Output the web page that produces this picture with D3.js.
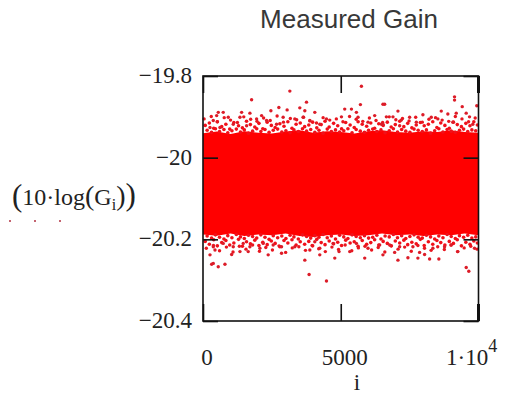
<!DOCTYPE html>
<html><head><meta charset="utf-8">
<script src="https://cdn.jsdelivr.net/npm/d3@7"></script>
<style>
html,body{margin:0;padding:0;background:#fff;}
svg{display:block;}
</style></head>
<body>
<svg id="chart" width="506" height="398"></svg>
<script>
// ---------------- data ----------------
const title = "Measured Gain";
const xTicks = [0, 5000, 10000];
const yTicks = [-19.8, -20, -20.2, -20.4];
const yTickLabels = ["\u221219.8", "\u221220", "\u221220.2", "\u221220.4"];
// dense core of the scatter: envelope (per index bin)
const coreI = [0,500,1000,1500,2000,2500,3000,3500,4000,4500,5000,5500,6000,6500,7000,7500,8000,8500,9000,9500,10000];
const coreHigh = [-19.940,-19.936,-19.942,-19.935,-19.939,-19.941,-19.936,-19.933,-19.939,-19.935,-19.937,-19.941,-19.935,-19.933,-19.937,-19.939,-19.935,-19.937,-19.933,-19.937,-19.939];
const coreLow = [-20.188,-20.191,-20.186,-20.192,-20.188,-20.190,-20.186,-20.192,-20.194,-20.190,-20.188,-20.192,-20.190,-20.186,-20.190,-20.188,-20.192,-20.188,-20.190,-20.186,-20.190];
// points forming the ragged upper edge of the dense core
const upEdgeI = [80,230,390,520,680,830,970,1120,1290,1430,1580,1720,1880,2030,2170,2330,2480,2620,2790,2940,3080,3230,3380,3530,3690,3840,3980,4130,4290,4430,4580,4740,4890,5030,5180,5340,5490,5630,5780,5940,6090,6230,6380,6540,6690,6830,6980,7140,7290,7430,7580,7740,7890,8030,8180,8340,8490,8630,8780,8940,9090,9230,9380,9540,9690,9830,9960];
const upEdgeG = [-19.921,-19.915,-19.928,-19.912,-19.924,-19.918,-19.930,-19.914,-19.922,-19.927,-19.911,-19.919,-19.925,-19.916,-19.929,-19.913,-19.921,-19.926,-19.917,-19.923,-19.912,-19.928,-19.918,-19.915,-19.924,-19.920,-19.913,-19.927,-19.919,-19.911,-19.925,-19.916,-19.922,-19.929,-19.914,-19.920,-19.926,-19.912,-19.918,-19.923,-19.915,-19.928,-19.917,-19.921,-19.913,-19.925,-19.919,-19.911,-19.924,-19.916,-19.927,-19.920,-19.914,-19.922,-19.918,-19.912,-19.926,-19.915,-19.921,-19.928,-19.913,-19.919,-19.924,-19.916,-19.922,-19.912,-19.920];
const upEdge2I = [150,310,450,600,760,900,1050,1210,1360,1500,1650,1800,1950,2100,2250,2400,2550,2710,2860,3010,3160,3300,3460,3610,3760,3910,4060,4210,4360,4510,4660,4810,4960,5110,5260,5410,5560,5710,5860,6010,6160,6310,6460,6610,6760,6910,7060,7210,7360,7510,7660,7810,7960,8110,8260,8410,8560,8710,8860,9010,9160,9310,9460,9610,9760,9900];
const upEdge2G = [-19.933,-19.938,-19.929,-19.936,-19.931,-19.939,-19.934,-19.930,-19.937,-19.932,-19.940,-19.935,-19.929,-19.936,-19.931,-19.938,-19.933,-19.930,-19.937,-19.934,-19.939,-19.932,-19.936,-19.929,-19.935,-19.931,-19.938,-19.933,-19.940,-19.930,-19.936,-19.932,-19.937,-19.934,-19.929,-19.939,-19.931,-19.935,-19.938,-19.933,-19.930,-19.936,-19.932,-19.939,-19.934,-19.929,-19.937,-19.931,-19.935,-19.938,-19.930,-19.933,-19.936,-19.932,-19.940,-19.934,-19.929,-19.937,-19.931,-19.935,-19.938,-19.933,-19.930,-19.936,-19.932,-19.934];
const upEdge3I = [40,300,520,770,1000,1250,1480,1730,1960,2200,2440,2690,2920,3170,3400,3650,3880,4120,4360,4600,4840,5080,5320,5560,5800,6040,6280,6520,6760,7000,7240,7480,7720,7960,8200,8440,8680,8920,9160,9400,9640,9880];
const upEdge3G = [-19.905,-19.899,-19.912,-19.902,-19.908,-19.914,-19.900,-19.906,-19.911,-19.903,-19.909,-19.898,-19.913,-19.904,-19.907,-19.901,-19.910,-19.915,-19.902,-19.908,-19.905,-19.912,-19.899,-19.906,-19.911,-19.903,-19.909,-19.914,-19.900,-19.907,-19.904,-19.910,-19.901,-19.913,-19.906,-19.902,-19.908,-19.911,-19.899,-19.905,-19.912,-19.903];
// points forming the ragged lower edge of the dense core
const loEdgeI = upEdgeI;
const loEdgeG = [-20.205,-20.212,-20.201,-20.216,-20.208,-20.203,-20.214,-20.209,-20.200,-20.217,-20.206,-20.211,-20.202,-20.215,-20.207,-20.213,-20.204,-20.210,-20.218,-20.203,-20.209,-20.201,-20.214,-20.206,-20.212,-20.205,-20.216,-20.200,-20.208,-20.213,-20.204,-20.211,-20.207,-20.215,-20.202,-20.209,-20.206,-20.217,-20.203,-20.212,-20.208,-20.201,-20.214,-20.205,-20.210,-20.216,-20.204,-20.209,-20.202,-20.213,-20.207,-20.211,-20.200,-20.215,-20.206,-20.212,-20.203,-20.208,-20.214,-20.205,-20.210,-20.201,-20.216,-20.207,-20.212,-20.204,-20.209];
const loEdge2I = upEdge2I;
const loEdge2G = [-20.192,-20.197,-20.189,-20.195,-20.199,-20.191,-20.196,-20.188,-20.194,-20.198,-20.190,-20.193,-20.197,-20.189,-20.195,-20.200,-20.191,-20.196,-20.192,-20.198,-20.190,-20.194,-20.199,-20.189,-20.193,-20.197,-20.191,-20.195,-20.188,-20.196,-20.192,-20.199,-20.190,-20.194,-20.198,-20.189,-20.193,-20.196,-20.191,-20.197,-20.195,-20.190,-20.199,-20.192,-20.194,-20.188,-20.196,-20.191,-20.198,-20.193,-20.189,-20.195,-20.197,-20.190,-20.194,-20.199,-20.192,-20.196,-20.188,-20.193,-20.198,-20.191,-20.195,-20.190,-20.197,-20.194];
const loEdge3I = [120,380,600,850,1090,1320,1560,1800,2050,2280,2520,2760,3000,3240,3480,3720,3960,4200,4440,4680,4920,5160,5400,5640,5880,6120,6360,6600,6840,7080,7320,7560,7800,8040,8280,8520,8760,9000,9240,9480,9720,9950];
const loEdge3G = [-20.222,-20.215,-20.228,-20.219,-20.231,-20.217,-20.224,-20.214,-20.229,-20.220,-20.226,-20.216,-20.232,-20.221,-20.218,-20.227,-20.215,-20.223,-20.230,-20.219,-20.225,-20.214,-20.228,-20.221,-20.217,-20.226,-20.220,-20.231,-20.216,-20.224,-20.219,-20.229,-20.215,-20.222,-20.227,-20.218,-20.225,-20.214,-20.230,-20.221,-20.217,-20.224];
// isolated points outside the dense core
const outI = [1764,3152,496,554,735,1402,1703,2127,2464,2754,3054,917,1341,1946,373,1098,2308,2909,254,616,1583,2670,
  5750,3757,5714,3514,4058,5145,5388,5569,6232,3696,3333,3634,5025,5627,3877,4482,6475,5989,4239,6532,
  9130,9130,6594,9409,9938,7076,8648,8887,9192,9554,6656,6895,7500,7982,8286,7199,8525,9674,6532,7743,9069,9793,7138,
  373,735,1098,1341,1703,2065,2547,2851,435,254,1040,1641,2366,2851,315,373,554,797,2185,1460,
  3333,3696,3877,3851,4482,4239,4783,4938,5326,5870,5989,4721,4058,5569,6413,4239,
  6532,6956,7076,7438,7800,8225,8561,7862,8043,8344,8768,9250,9554,9648,9855,7138,7619,6775,9011];
const outG = [-19.858,-19.837,-19.897,-19.889,-19.889,-19.889,-19.891,-19.897,-19.885,-19.877,-19.883,-19.901,-19.901,-19.905,-19.909,-19.918,-19.909,-19.901,-19.926,-19.926,-19.922,-19.918,
  -19.825,-19.864,-19.870,-19.878,-19.889,-19.881,-19.881,-19.889,-19.897,-19.885,-19.905,-19.901,-19.900,-19.901,-19.909,-19.905,-19.918,-19.913,-19.918,-19.869,
  -19.851,-19.859,-19.869,-19.875,-19.873,-19.886,-19.886,-19.893,-19.891,-19.891,-19.900,-19.900,-19.901,-19.895,-19.901,-19.908,-19.905,-19.900,-19.918,-19.913,-19.913,-19.918,-19.922,
  -20.218,-20.210,-20.218,-20.230,-20.218,-20.222,-20.214,-20.218,-20.226,-20.238,-20.237,-20.230,-20.238,-20.234,-20.261,-20.259,-20.267,-20.261,-20.210,-20.210,
  -20.218,-20.251,-20.226,-20.286,-20.302,-20.238,-20.246,-20.230,-20.230,-20.246,-20.222,-20.210,-20.206,-20.210,-20.214,-20.222,
  -20.238,-20.232,-20.251,-20.245,-20.246,-20.248,-20.248,-20.232,-20.237,-20.222,-20.218,-20.230,-20.269,-20.278,-20.222,-20.218,-20.218,-20.214,-20.214];

// ---------------- layout ----------------
const svg = d3.select("#chart");
const L = 203, R = 478.5, T = 76, B = 321;
const x = d3.scaleLinear().domain([0, 10000]).range([L, R]);
const y = d3.scaleLinear().domain([-20.4, -19.8]).range([B, T]);
const serif = "'Liberation Serif','Times New Roman',serif";

svg.append("text").attr("x", 349).attr("y", 28).attr("text-anchor", "middle")
  .attr("font-family", "'Liberation Sans',Arial,sans-serif").attr("font-size", 26)
  .attr("fill", "#383838").text(title);

const plot = svg.append("g");
const core = coreI.map((d, k) => ({i: d, hi: coreHigh[k], lo: coreLow[k]}));
plot.append("path").datum(core)
  .attr("d", d3.area().x(d => x(d.i)).y0(d => y(d.lo)).y1(d => y(d.hi)))
  .attr("fill", "#ff0000");

const pairs = (I, G) => I.slice(0, Math.min(I.length, G.length)).map((d, k) => ({i: d, g: G[k]}));
const edgePts = [].concat(pairs(upEdge2I, upEdge2G), pairs(loEdge2I, loEdge2G), pairs(upEdgeI, upEdgeG), pairs(loEdgeI, loEdgeG));
plot.selectAll("circle.e").data(edgePts).enter().append("circle")
  .attr("class", "e").attr("cx", d => x(d.i)).attr("cy", d => y(d.g)).attr("r", 1.8)
  .attr("fill", "#f0101a");
const edge3 = [].concat(pairs(upEdge3I, upEdge3G), pairs(loEdge3I, loEdge3G));
plot.selectAll("circle.e3").data(edge3).enter().append("circle")
  .attr("class", "e3").attr("cx", d => x(d.i)).attr("cy", d => y(d.g)).attr("r", 1.7)
  .attr("fill", "#e8161f");
plot.selectAll("circle.o").data(pairs(outI, outG)).enter().append("circle")
  .attr("class", "o").attr("cx", d => x(d.i)).attr("cy", d => y(d.g)).attr("r", 1.7)
  .attr("fill", "#dc1c28");

// frame
svg.append("rect").attr("x", L).attr("y", T).attr("width", R - L).attr("height", B - T)
  .attr("fill", "none").attr("stroke", "#111").attr("stroke-width", 1.6);

// ticks via axes (inward)
const axStyle = g => { g.select(".domain").remove(); g.selectAll("line").attr("stroke", "#111").attr("stroke-width", 1.6); g.selectAll("text").remove(); };
svg.append("g").attr("transform", `translate(0,${B})`).call(d3.axisBottom(x).tickValues(xTicks).tickSize(-17)).call(axStyle);
svg.append("g").attr("transform", `translate(0,${T})`).call(d3.axisTop(x).tickValues(xTicks).tickSize(-17)).call(axStyle);
svg.append("g").attr("transform", `translate(${L},0)`).call(d3.axisLeft(y).tickValues(yTicks).tickSize(-15)).call(axStyle);
svg.append("g").attr("transform", `translate(${R},0)`).call(d3.axisRight(y).tickValues(yTicks).tickSize(-15)).call(axStyle);
// thick end-tick on the right edge
svg.selectAll("line.endtick").data([[T, T + 17], [B - 17, B]]).enter().append("line")
  .attr("x1", x(10000)).attr("x2", x(10000)).attr("y1", d => d[0]).attr("y2", d => d[1])
  .attr("stroke", "#111").attr("stroke-width", 3);

// y tick labels
svg.selectAll("text.yl").data(yTicks).enter().append("text")
  .attr("x", 192).attr("y", d => y(d) + 7).attr("text-anchor", "end")
  .attr("font-family", serif).attr("font-size", 23).attr("fill", "#222")
  .text((d, k) => yTickLabels[k]);

// x tick labels
const xl = svg.selectAll("text.xl").data(xTicks).enter().append("text")
  .attr("y", 365).attr("font-family", serif).attr("font-size", 23).attr("fill", "#222");
xl.filter(d => d < 10000).attr("x", d => x(d) + 4).attr("text-anchor", "middle").text(d => d);
const last = xl.filter(d => d === 10000).attr("x", 446).attr("text-anchor", "start");
last.append("tspan").text("1\u00b710");
last.append("tspan").attr("dy", -13).attr("font-size", 18).text("4");

// x axis title
svg.append("text").attr("x", 357).attr("y", 390).attr("text-anchor", "middle")
  .attr("font-family", serif).attr("font-size", 23).attr("fill", "#222").text("i");

// y axis title
const yt = svg.append("text").attr("x", 12).attr("y", 205)
  .attr("font-family", serif).attr("font-size", 24).attr("fill", "#222");
yt.append("tspan").attr("font-size", 31).attr("dy", 1).text("(");
yt.append("tspan").attr("dy", -1).text("10\u00b7log");
yt.append("tspan").attr("font-size", 28).text("(");
yt.append("tspan").text("G");
yt.append("tspan").attr("font-size", 16).attr("dy", 5).text("i");
yt.append("tspan").attr("font-size", 28).attr("dy", -5).text(")");
yt.append("tspan").attr("font-size", 31).text(")");

// legend trace symbol (three dots)
svg.selectAll("circle.lg").data([10, 35, 60]).enter().append("circle")
  .attr("cx", d => d).attr("cy", 221).attr("r", 1).attr("fill", "#b03040");
</script>
</body></html>
